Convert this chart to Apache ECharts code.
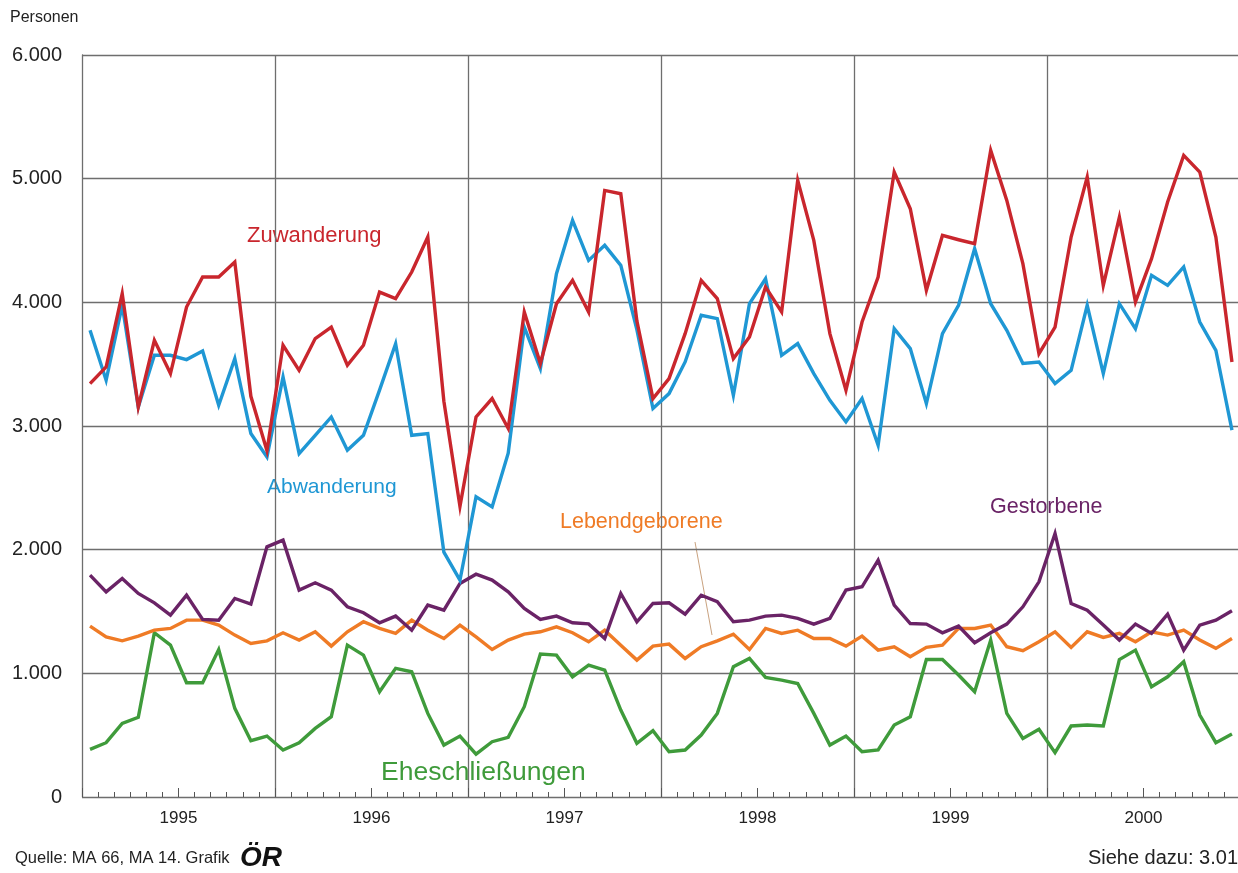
<!DOCTYPE html>
<html><head><meta charset="utf-8">
<script src="https://cdn.jsdelivr.net/npm/echarts@6/dist/echarts.min.js"></script>
<style>html,body{margin:0;padding:0;background:#fff;overflow:hidden}#c{width:1238px;height:873px}</style>
</head><body><div id="c"></div>
<script>
// ---- data ----
const years = ['1995','1996','1997','1998','1999','2000'];
const monthNames = ['Jan','Feb','Mär','Apr','Mai','Jun','Jul','Aug','Sep','Okt','Nov','Dez'];
const yTicks = [0,1000,2000,3000,4000,5000,6000];

const zuwanderung = [
  3343,3477,4070,3154,3693,3424,3962,4205,4205,4326,3240,2800,
  3653,3450,3707,3800,3491,3653,4083,4030,4245,4528,3200,2350,
  3073,3222,2980,3922,3505,3989,4178,3922,4905,4878,3850,3222,
  3383,3747,4178,4030,3545,3720,4124,3922,4986,4501,3747,3289,
  3841,4205,5053,4757,4097,4541,4506,4474,5228,4824,4313,3585,
  3800,4528,5013,4137,4689,4003,4353,4811,5188,5053,4528,3518
];
const abwanderung = [
  3774,3370,3976,3154,3572,3572,3537,3607,3168,3545,2939,2750,
  3397,2777,2925,3073,2804,2925,3290,3666,2925,2939,1980,1753,
  2427,2346,2780,3800,3464,4232,4663,4339,4461,4299,3780,3141,
  3262,3518,3895,3868,3248,3989,4191,3572,3666,3424,3208,3033,
  3222,2844,3787,3626,3181,3747,3976,4434,3989,3774,3505,3518,
  3343,3450,3976,3424,3989,3787,4218,4137,4286,3841,3612,2966
];
const gestorbene = [
  1794,1659,1767,1646,1570,1471,1632,1436,1430,1605,1560,2023,
  2077,1673,1732,1673,1538,1490,1409,1463,1349,1552,1511,1727,
  1802,1754,1659,1525,1436,1463,1409,1400,1282,1646,1417,1565,
  1570,1479,1632,1579,1417,1430,1463,1471,1444,1398,1444,1673,
  1700,1915,1552,1403,1398,1328,1382,1247,1328,1398,1538,1740,
  2131,1565,1511,1390,1269,1398,1323,1479,1188,1390,1430,1506
];
const lebendgeborene = [
  1382,1295,1263,1301,1349,1363,1430,1430,1390,1309,1242,1263,
  1328,1269,1336,1220,1336,1417,1363,1323,1430,1349,1282,1390,
  1295,1193,1269,1317,1336,1376,1328,1255,1349,1228,1107,1220,
  1236,1120,1215,1263,1317,1193,1363,1323,1349,1282,1282,1220,
  1301,1188,1215,1134,1210,1228,1363,1363,1390,1215,1183,1255,
  1336,1210,1336,1290,1323,1255,1336,1309,1349,1269,1202,1282
];
const eheschliessungen = [
  385,439,595,644,1328,1228,924,924,1193,717,455,493,
  380,439,555,649,1228,1147,851,1040,1013,676,420,493,
  347,447,482,730,1156,1147,972,1067,1026,703,434,536,
  366,380,501,676,1053,1120,967,945,918,676,420,493,
  366,380,582,649,1112,1112,986,851,1269,676,474,547,
  358,574,582,574,1112,1188,891,972,1094,663,439,509
];

// ---- build ----
const categories = [];
years.forEach(y => monthNames.forEach(m => categories.push(m + ' ' + y)));

const FONT = '"Liberation Sans", Arial, Helvetica, sans-serif';
const GRID = '#6e6e6e';
const C = {
  zu: '#c9262d', ab: '#1f97d4', leb: '#ef7b26', ges: '#6a2366', ehe: '#3f9b3b'
};

const chart = echarts.init(document.getElementById('c'), null, {renderer: 'canvas'});

function mkLine(name, data, color, z) {
  return {
    name, type: 'line', data, xAxisIndex: 0, yAxisIndex: 0,
    symbol: 'none', smooth: false, z,
    lineStyle: {color, width: 3.4, join: 'miter'},
    itemStyle: {color}
  };
}

const option = {
  animation: false,
  backgroundColor: '#ffffff',
  textStyle: {fontFamily: FONT},
  grid: {left: 82, width: 1158, top: 55, bottom: 76, containLabel: false, outerBoundsMode: 'none'},
  xAxis: [
    {
      type: 'category', data: categories, boundaryGap: true,
      axisLine: {show: false},
      axisTick: {show: true, inside: true, length: 5, interval: 0, lineStyle: {color: '#555', width: 1}},
      axisLabel: {show: false},
      splitLine: {show: true, interval: (i) => i > 0 && i < categories.length && i % 12 === 0, lineStyle: {color: GRID, width: 1.3}}
    },
    {
      type: 'value', min: 0, max: 72, interval: 6, position: 'bottom',
      axisLine: {show: false},
      axisTick: {show: true, inside: true, length: 9, lineStyle: {color: '#555', width: 1}},
      axisLabel: {
        show: true, margin: 13, fontSize: 17, color: '#222', fontFamily: FONT,
        formatter: (v) => (v % 12 === 6 ? years[(v - 6) / 12] : '')
      },
      splitLine: {show: false}
    }
  ],
  yAxis: {
    type: 'value', min: yTicks[0], max: yTicks[yTicks.length - 1], interval: 1000,
    axisLine: {show: true, lineStyle: {color: GRID, width: 1.3}},
    axisTick: {show: false},
    axisLabel: {
      margin: 20, fontSize: 20, color: '#222', fontFamily: FONT,
      formatter: (v) => (v === 0 ? '0' : (v / 1000) + '.000')
    },
    splitLine: {show: true, lineStyle: {color: GRID, width: 1.3}}
  },
  series: [
    mkLine('Eheschließungen', eheschliessungen, C.ehe, 2),
    mkLine('Lebendgeborene', lebendgeborene, C.leb, 3),
    mkLine('Gestorbene', gestorbene, C.ges, 4),
    mkLine('Abwanderung', abwanderung, C.ab, 5),
    mkLine('Zuwanderung', zuwanderung, C.zu, 6)
  ],
  graphic: [
    {type: 'text', left: 10, top: 10, style: {text: 'Personen', font: '16px ' + FONT, fill: '#222'}},
    {type: 'text', x: 247, y: 236, style: {text: 'Zuwanderung', font: '22px ' + FONT, fill: C.zu, verticalAlign: 'middle'}},
    {type: 'text', x: 267, y: 487, style: {text: 'Abwanderung', font: '21px ' + FONT, fill: C.ab, verticalAlign: 'middle'}},
    {type: 'text', x: 560, y: 522, style: {text: 'Lebendgeborene', font: '21.5px ' + FONT, fill: C.leb, verticalAlign: 'middle'}},
    {type: 'text', x: 990, y: 507, style: {text: 'Gestorbene', font: '21.5px ' + FONT, fill: C.ges, verticalAlign: 'middle'}},
    {type: 'text', x: 381, y: 773, style: {text: 'Eheschließungen', font: '26.5px ' + FONT, fill: C.ehe, verticalAlign: 'middle'}},
    {type: 'line', shape: {x1: 695, y1: 542, x2: 712, y2: 635}, style: {stroke: '#c9a27f', lineWidth: 1}},
    {type: 'text', x: 15, y: 858, style: {text: 'Quelle: MA 66, MA 14. Grafik', font: '16.5px ' + FONT, fill: '#222', verticalAlign: 'middle'}},
    {type: 'text', x: 240, y: 858, style: {text: 'ÖR', font: 'italic bold 28px ' + FONT, fill: '#111', verticalAlign: 'middle'}},
    {type: 'text', x: 1238, y: 858, style: {text: 'Siehe dazu: 3.01', font: '20px ' + FONT, fill: '#222', align: 'right', verticalAlign: 'middle'}}
  ]
};
chart.setOption(option);
</script>
</body></html>
